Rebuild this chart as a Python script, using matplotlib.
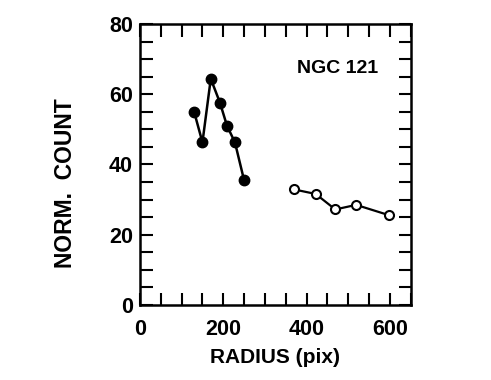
import numpy as np
import matplotlib
matplotlib.use("Agg")
import matplotlib.pyplot as plt
from matplotlib.ticker import MultipleLocator

# inner (filled) points
r_inner = [130, 150, 170, 192, 209, 228, 250]
n_inner = [55.0, 46.3, 64.4, 57.6, 51.0, 46.3, 35.5]

# outer (open) points
r_outer = [370, 422, 469, 519, 597]
n_outer = [32.9, 31.6, 27.2, 28.5, 25.6]

plt.rcParams['font.family'] = ['Liberation Sans', 'DejaVu Sans']
plt.rcParams['font.weight'] = 'bold'

fig = plt.figure(figsize=(4.91, 3.80), dpi=100)
ax = fig.add_axes([0.2851, 0.1974, 0.5513, 0.7395])

ax.plot(r_inner, n_inner, color='black', lw=1.8, marker='o', ms=7.5,
        mfc='black', mec='black', zorder=3)
ax.plot(r_outer, n_outer, color='black', lw=1.6, marker='o', ms=6.5,
        mfc='white', mec='black', mew=1.5, zorder=3)

ax.set_xlim(0, 650)
ax.set_ylim(0, 80)
ax.xaxis.set_major_locator(MultipleLocator(200))
ax.xaxis.set_minor_locator(MultipleLocator(50))
ax.yaxis.set_major_locator(MultipleLocator(20))
ax.yaxis.set_minor_locator(MultipleLocator(5))

ax.tick_params(which='both', direction='in', top=True, right=True,
               width=1.5, length=9, labelsize=15.5)
ax.tick_params(axis='x', which='major', pad=10)
ax.tick_params(axis='y', which='major', pad=5)
for sp in ax.spines.values():
    sp.set_linewidth(1.8)

ax.set_xlabel('RADIUS (pix)', fontsize=15, fontweight='bold', labelpad=6)
ax.set_ylabel('NORM.  COUNT', fontsize=16.5, fontweight='bold')
ax.yaxis.set_label_coords(-0.233, 0.434)

ax.text(474, 67.4, 'NGC 121', fontsize=14, fontweight='bold',
        ha='center', va='center')

fig.savefig('out.png', dpi=100)
